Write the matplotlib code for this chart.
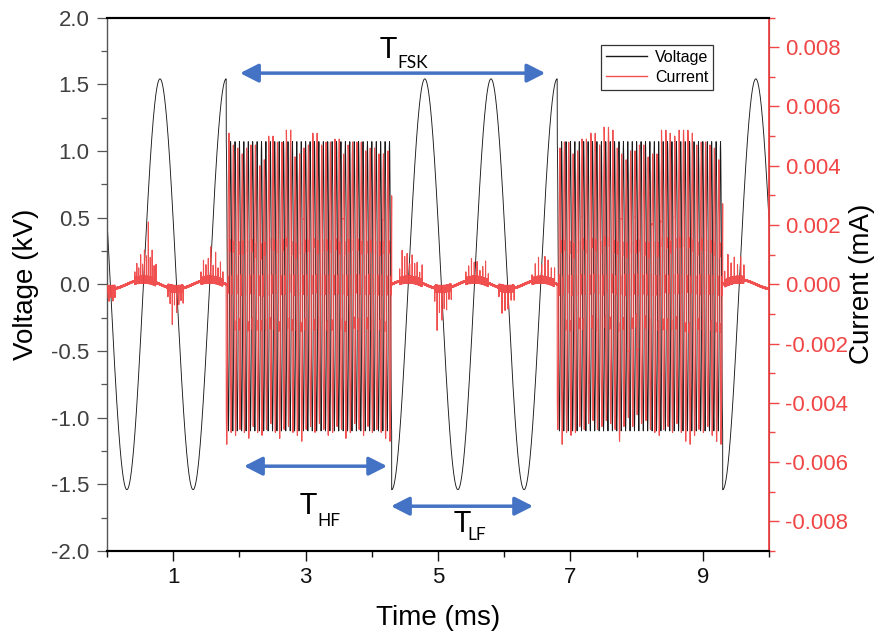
import numpy as np
import matplotlib
matplotlib.use("Agg")
import matplotlib.pyplot as plt
from matplotlib.ticker import FixedLocator, MultipleLocator, FormatStrFormatter

# FSK drive layout (ms)
seg_edges = [0.0, 1.8, 4.3, 6.8, 9.3, 10.0]
seg_mode = ["LF", "HF", "LF", "HF", "LF"]

f_lf = 1.0          # kHz
f_hf = 15.0         # kHz
v_lf_amp = 1.54     # kV
v_lf_peak = 0.8     # ms, one LF voltage maximum
v_hf_top = 1.07     # kV
v_hf_bot = 1.10     # kV
i_lf_amp = 0.00016  # mA
i_hf_lead = 0.025   # ms, current leads voltage

# per-cycle current maxima / minima in the two HF bursts (mA)
hf1_top = [0.0051, 0.0047, 0.0046, 0.0043, 0.0044, 0.0046, 0.0047, 0.0040, 0.0039, 0.0042,
           0.0050, 0.0048, 0.0045, 0.0048, 0.0052, 0.0043, 0.0040, 0.0044, 0.0046, 0.0047,
           0.0051, 0.0044, 0.0047, 0.0048, 0.0045, 0.0049, 0.0044, 0.0043, 0.0047, 0.0048,
           0.0048, 0.0044, 0.0045, 0.0046, 0.0044, 0.0043, 0.0044, 0.0045]
hf1_bot = [-0.0054, -0.0050, -0.0051, -0.0049, -0.0050, -0.0052, -0.0048, -0.0050, -0.0051, -0.0049,
           -0.0047, -0.0050, -0.0052, -0.0049, -0.0048, -0.0050, -0.0051, -0.0053, -0.0049, -0.0048,
           -0.0050, -0.0047, -0.0049, -0.0051, -0.0050, -0.0048, -0.0049, -0.0052, -0.0050, -0.0047,
           -0.0049, -0.0051, -0.0048, -0.0050, -0.0049, -0.0050, -0.0052, -0.0053]
hf2_top = [0.0043, 0.0046, 0.0048, 0.0044, 0.0040, 0.0045, 0.0049, 0.0045, 0.0051, 0.0047,
           0.0044, 0.0053, 0.0052, 0.0046, 0.0044, 0.0042, 0.0041, 0.0045, 0.0045, 0.0047,
           0.0043, 0.0040, 0.0044, 0.0042, 0.0052, 0.0051, 0.0045, 0.0050, 0.0052, 0.0052,
           0.0051, 0.0047, 0.0043, 0.0048, 0.0047, 0.0046, 0.0042, 0.0041]
hf2_bot = [-0.0049, -0.0054, -0.0050, -0.0051, -0.0050, -0.0048, -0.0049, -0.0047, -0.0046, -0.0049,
           -0.0048, -0.0046, -0.0047, -0.0049, -0.0053, -0.0048, -0.0045, -0.0048, -0.0044, -0.0047,
           -0.0046, -0.0049, -0.0050, -0.0051, -0.0049, -0.0048, -0.0050, -0.0047, -0.0050, -0.0053,
           -0.0054, -0.0051, -0.0049, -0.0050, -0.0048, -0.0051, -0.0053, -0.0054]

# discharge spike bursts during the LF parts (ms, mA)
burst_start = [0.00, 0.42, 0.92, 1.42, 4.42, 4.95, 5.42, 5.92, 6.42, 9.33]
burst_end = [0.12, 0.74, 1.15, 1.75, 4.76, 5.20, 5.76, 6.15, 6.76, 9.62]
burst_peaks = [
    [-0.0003, -0.0005, -0.0002, -0.0004, -0.0003],
    [0.0004, 0.0007, 0.0005, 0.0009, 0.0006, 0.0011, 0.0008, 0.0019, 0.0007, 0.0010, 0.0005, 0.0006],
    [-0.0004, -0.0006, -0.0011, -0.0005, -0.0008, -0.0006, -0.0004, -0.0005],
    [0.0004, 0.0006, 0.0005, 0.0008, 0.0010, 0.0006, 0.0009, 0.0005, 0.0007, 0.0004],
    [0.0005, 0.0010, 0.0007, 0.0009, 0.0006, 0.0008, 0.0005, 0.0007, 0.0004, 0.0006],
    [-0.0005, -0.0013, -0.0007, -0.0010, -0.0006, -0.0008, -0.0005, -0.0004],
    [0.0004, 0.0006, 0.0007, 0.0005, 0.0006, 0.0004, 0.0005, 0.0006, 0.0003],
    [-0.0004, -0.0009, -0.0006, -0.0007, -0.0005, -0.0004],
    [0.0003, 0.0006, 0.0008, 0.0005, 0.0007, 0.0006, 0.0004, 0.0005],
    [0.0005, 0.0010, 0.0007, 0.0009, 0.0006, 0.0008, 0.0005],
]

# annotation arrows (ms, kV)
arrow_x0 = [2.01, 2.07, 4.29]
arrow_x1 = [6.62, 4.23, 6.435]
arrow_y = [1.583, -1.364, -1.664]
period_names = ["FSK", "HF", "LF"]
label_t = [(4.12, 1.70), (2.915, -1.726), (5.23, -1.861)]
label_sub = [(4.38, 1.62), (3.17, -1.809), (5.45, -1.921)]

BLUE = "#4472C4"
RED = "#f04646"

# ---- build the waveforms -------------------------------------------------
t = np.arange(0.0, 10.0, 0.0005)
volt = np.zeros_like(t)
curr = np.zeros_like(t)
hf_lists = iter([(hf1_top, hf1_bot), (hf2_top, hf2_bot)])

for (a, b), mode in zip(zip(seg_edges[:-1], seg_edges[1:]), seg_mode):
    m = (t >= a) & (t < b)
    ts = t[m]
    if mode == "LF":
        ph = 2 * np.pi * f_lf * (ts - v_lf_peak)
        volt[m] = v_lf_amp * np.cos(ph)
        curr[m] = -i_lf_amp * np.sin(ph) + 0.00003 * np.sin(2 * np.pi * 233 * ts)
    else:
        top, bot = next(hf_lists)
        pv = 2 * np.pi * f_hf * (ts - a)
        cv = np.cos(pv)
        volt[m] = np.where(cv > 0, v_hf_top, v_hf_bot) * cv
        volt[m] += 0.04 * np.sin(2 * np.pi * 210 * ts) * np.sin(pv) ** 8
        pc = 2 * np.pi * f_hf * (ts - a + i_hf_lead)
        cc = np.cos(pc)
        k = np.clip(((ts - a + i_hf_lead) * f_hf).astype(int), 0, len(top) - 1)
        amp = np.where(cc > 0, np.array(top)[k], -np.array(bot)[k])
        curr[m] = amp * cc + 0.0009 * np.sin(2 * np.pi * 180 * ts) * np.sin(pc) ** 8

for s, e, peaks in zip(burst_start, burst_end, burst_peaks):
    m = (t >= s) & (t < e)
    curr[m] += 0.0001 * np.sin(2 * np.pi * 311 * t[m])
    for p, h in zip(np.linspace(s, e, len(peaks)), peaks):
        curr[np.searchsorted(t, p)] += h

# ---- plot ----------------------------------------------------------------
plt.rcParams["font.family"] = ["Liberation Sans", "DejaVu Sans"]

fig = plt.figure(figsize=(8.86, 6.39), dpi=100)
ax = fig.add_axes([0.1208, 0.1377, 0.7472, 0.8349])
ax2 = ax.twinx()

lv, = ax.plot(t, volt, color="#1a1a1a", lw=0.65, label="Voltage")
lc, = ax2.plot(t, curr, color=RED, lw=0.8, alpha=0.95, label="Current")

ax.set_xlim(0, 10)
ax.set_ylim(-2.0, 2.0)
ax2.set_ylim(-0.009, 0.009)

ax.xaxis.set_major_locator(FixedLocator([1, 3, 5, 7, 9]))
ax.xaxis.set_minor_locator(FixedLocator([0, 2, 4, 6, 8, 10]))
ax.yaxis.set_major_locator(MultipleLocator(0.5))
ax.yaxis.set_minor_locator(MultipleLocator(0.25))
ax.yaxis.set_major_formatter(FormatStrFormatter("%.1f"))
ax2.yaxis.set_major_locator(FixedLocator(np.arange(-0.008, 0.0081, 0.002)))
ax2.yaxis.set_minor_locator(FixedLocator(np.arange(-0.009, 0.0091, 0.002)))
ax2.yaxis.set_major_formatter(FormatStrFormatter("%.3f"))

ax.tick_params(axis="x", which="both", direction="out", top=False, colors="#111111",
               labelsize=16, pad=4)
ax.tick_params(axis="x", which="major", length=7.5, width=1.0)
ax.tick_params(axis="x", which="minor", length=4.5, width=1.0)
ax.tick_params(axis="y", which="both", direction="out", colors="#555555",
               labelcolor="#404040", labelsize=16, pad=5)
ax.tick_params(axis="y", which="major", length=7.5, width=0.9)
ax.tick_params(axis="y", which="minor", length=4.5, width=0.9)
ax2.tick_params(axis="y", which="both", direction="out", colors=RED,
                labelsize=16, pad=4)
ax2.tick_params(axis="y", which="major", length=7.5, width=1.0)
ax2.tick_params(axis="y", which="minor", length=4.5, width=1.0)

for a_ in (ax, ax2):
    a_.spines["top"].set_linewidth(1.5)
    a_.spines["bottom"].set_linewidth(1.5)
ax.spines["left"].set_color("#555555")
ax.spines["left"].set_linewidth(1.0)
ax2.spines["right"].set_color(RED)
ax2.spines["right"].set_linewidth(1.3)
ax2.spines["left"].set_visible(False)

ax.set_xlabel("Time (ms)", fontsize=20)
ax.set_ylabel("Voltage (kV)", fontsize=20)
ax2.set_ylabel("Current (mA)", fontsize=20, color="black")
ax.xaxis.set_label_coords(0.5, -0.102)
ax.yaxis.set_label_coords(-0.103, 0.5)
ax2.yaxis.set_label_coords(1.121, 0.5)

for x0, x1, y in zip(arrow_x0, arrow_x1, arrow_y):
    ax.annotate("", xy=(x1, y), xytext=(x0, y),
                arrowprops=dict(arrowstyle="<|-|>,head_length=0.55,head_width=0.28",
                                color=BLUE, lw=2.5, mutation_scale=20,
                                shrinkA=0, shrinkB=0), zorder=5)

for name, (tx, ty), (sx, sy) in zip(period_names, label_t, label_sub):
    ax.text(tx, ty, "T", fontsize=21, family="Lato", ha="left", va="baseline", zorder=6)
    ax.text(sx, sy, name, fontsize=12.5, family="Lato", ha="left", va="baseline", zorder=6)

leg = ax2.legend(handles=[lv, lc], loc="upper left", bbox_to_anchor=(0.746, 0.948),
                 fontsize=11.5, frameon=True, fancybox=False, edgecolor="black",
                 handlelength=2.6, borderpad=0.3, labelspacing=0.3, handletextpad=0.5,
                 borderaxespad=0)
leg.get_frame().set_linewidth(0.9)
for h in leg.get_lines():
    h.set_linewidth(1.0)

fig.savefig("out.png", dpi=100)
